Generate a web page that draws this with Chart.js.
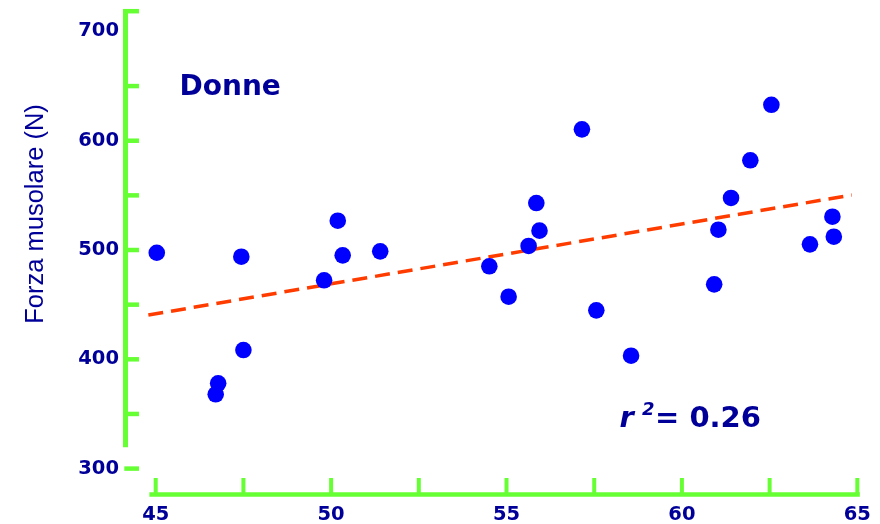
<!DOCTYPE html>
<html><head><meta charset="utf-8">
<script src="https://cdn.jsdelivr.net/npm/chart.js@4.4.1/dist/chart.umd.min.js"></script>
<style>html,body{margin:0;padding:0;background:#fff}canvas{display:block}</style>
</head><body>
<canvas id="c" width="880" height="524"></canvas>
<script>
// ---- data ----
const ageX   = [45.03, 46.71, 46.78, 47.44, 47.50, 49.80, 50.19, 50.33, 51.40, 54.51, 55.06, 55.63, 55.85, 55.94, 57.15, 57.56, 58.55, 60.92, 61.04, 61.40, 61.95, 62.55, 63.65, 64.29, 64.33];
const forceY = [497.5, 368.0, 378.0, 493.9, 408.5, 472.3, 526.8, 495.1, 498.8, 485.1, 457.3, 503.7, 543.0, 517.7, 610.4, 444.8, 403.3, 468.6, 518.6, 547.6, 582.1, 632.9, 505.2, 530.5, 512.2];
const trendX = [44.79, 64.84];
const trendY = [440.5, 550.3];
const xTickLabels = [45, 50, 55, 60, 65];
const yTickLabels = [300, 400, 500, 600, 700];
const xTickMarks = [45, 47.5, 50, 52.5, 55, 57.5, 60, 62.5, 65];
const yTickMarks = [350, 400, 450, 500, 550, 600, 650];
const yAxisTitle = 'Forza musolare (N)';
const panelTitle = 'Donne';
const r2Label = '0.26';

const GREEN = '#66ff33';
const NAVY = '#000099';

const axesPlugin = {
  id: 'customAxes',
  beforeDatasetsDraw(chart) {
    const { ctx, chartArea, scales: { x, y } } = chart;
    ctx.save();
    ctx.strokeStyle = GREEN;
    ctx.lineCap = 'butt';
    // y axis
    const ax = chartArea.left + 1.5;
    const yTop = y.getPixelForValue(718.5);
    const yBot = y.getPixelForValue(319.5);
    ctx.lineWidth = 5;
    ctx.beginPath(); ctx.moveTo(ax, yTop - 2.25); ctx.lineTo(ax, yBot); ctx.stroke();
    ctx.lineWidth = 4.5;
    [718.5, ...yTickMarks].forEach(v => {
      const py = y.getPixelForValue(v);
      ctx.beginPath(); ctx.moveTo(ax - 2.5, py); ctx.lineTo(ax + 13.5, py); ctx.stroke();
    });
    const p300 = y.getPixelForValue(300);
    ctx.beginPath(); ctx.moveTo(ax - 1.2, p300); ctx.lineTo(ax + 13.5, p300); ctx.stroke();
    // x axis
    const y0 = chartArea.bottom - 0.5;
    ctx.lineWidth = 4.5;
    ctx.beginPath();
    ctx.moveTo(x.getPixelForValue(44.82), y0);
    ctx.lineTo(x.getPixelForValue(65) + 2.5, y0);
    ctx.stroke();
    ctx.lineWidth = 4;
    xTickMarks.forEach(v => {
      const px = x.getPixelForValue(v);
      ctx.beginPath(); ctx.moveTo(px, y0); ctx.lineTo(px, y0 - 16.5); ctx.stroke();
    });
    ctx.restore();
  },
  afterDraw(chart) {
    const { ctx } = chart;
    ctx.save();
    ctx.fillStyle = NAVY;
    // y axis title
    ctx.save();
    ctx.translate(43, 214);
    ctx.rotate(-Math.PI / 2);
    ctx.font = '25.5px "Liberation Sans", Arial, sans-serif';
    ctx.textAlign = 'center';
    ctx.textBaseline = 'alphabetic';
    ctx.fillText(yAxisTitle, 0, 0);
    ctx.restore();
    // panel title
    ctx.textAlign = 'left';
    ctx.textBaseline = 'alphabetic';
    ctx.font = 'bold 28px "DejaVu Sans", Verdana, sans-serif';
    ctx.fillText(panelTitle, 179.5, 95);
    // r^2 annotation
    ctx.font = 'italic bold 29px "DejaVu Sans", Verdana, sans-serif';
    ctx.fillText('r', 619.5, 427);
    ctx.font = 'italic bold 18px "DejaVu Sans", Verdana, sans-serif';
    ctx.fillText('2', 642, 415);
    ctx.font = 'bold 29px "DejaVu Sans", Verdana, sans-serif';
    ctx.fillText('= ' + r2Label, 655, 427);
    ctx.restore();
  }
};

new Chart(document.getElementById('c'), {
  data: {
    datasets: [
      {
        type: 'scatter',
        data: ageX.map((v, i) => ({ x: v, y: forceY[i] })),
        backgroundColor: '#0000ff',
        borderWidth: 0,
        pointRadius: 8.3,
        pointHoverRadius: 8.3,
        order: 0,
        clip: false
      },
      {
        type: 'line',
        data: trendX.map((v, i) => ({ x: v, y: trendY[i] })),
        borderColor: '#ff3c00',
        borderWidth: 3.5,
        borderDash: [15, 8],
        pointRadius: 0,
        fill: false,
        order: 1,
        clip: false
      }
    ]
  },
  options: {
    responsive: false,
    animation: false,
    devicePixelRatio: 1,
    events: [],
    layout: { padding: { top: 10, right: 19, left: 0, bottom: 0 } },
    plugins: { legend: { display: false }, tooltip: { enabled: false } },
    scales: {
      x: {
        type: 'linear',
        min: 44.096, max: 65.105,
        grid: { display: false, drawTicks: false },
        border: { display: false },
        afterBuildTicks: s => { s.ticks = xTickLabels.map(v => ({ value: v })); },
        afterFit: s => { s.height = 29; s.paddingLeft = 0; s.paddingRight = 0; },
        ticks: {
          color: NAVY, padding: 8, maxRotation: 0, autoSkip: false,
          font: { family: '"DejaVu Sans", Verdana, sans-serif', size: 19.5, weight: 'bold' }
        }
      },
      y: {
        type: 'linear',
        min: 275.85, max: 719.6,
        grid: { display: false, drawTicks: false },
        border: { display: false },
        afterBuildTicks: s => { s.ticks = yTickLabels.map(v => ({ value: v })); },
        afterFit: s => { s.width = 124; s.paddingTop = 0; s.paddingBottom = 0; },
        ticks: {
          color: NAVY, padding: 5, autoSkip: false,
          font: { family: '"DejaVu Sans", Verdana, sans-serif', size: 19.5, weight: 'bold' }
        }
      }
    }
  },
  plugins: [axesPlugin]
});
</script>
</body></html>
